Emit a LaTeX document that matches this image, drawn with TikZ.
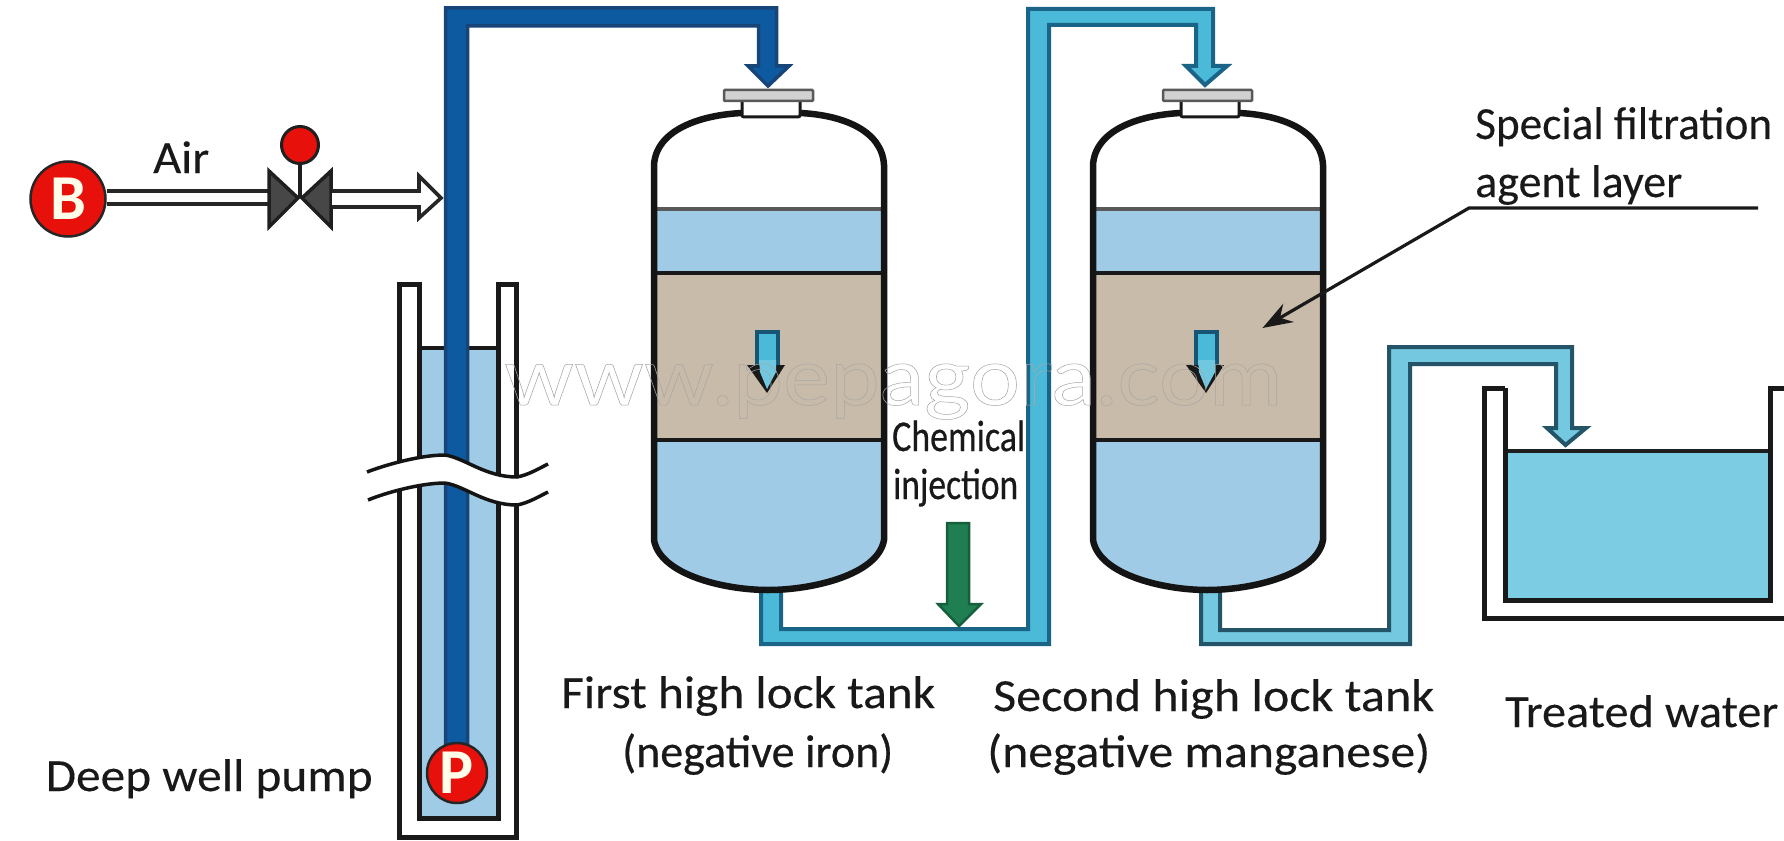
\documentclass[tikz,border=0pt]{standalone}
\usepackage{fontspec}
\usepackage{graphicx}
\usetikzlibrary{arrows.meta}
\setmainfont{Carlito}
\newfontfamily\heavyfont[FakeBold=0.5]{Carlito}
\newfontfamily\textweight[FakeBold=0.2]{Carlito}
\newfontfamily\markfont{Lato}
\definecolor{waterblue}{HTML}{9FCBE6}
\definecolor{mediatan}{HTML}{C9BBA9}
\definecolor{deepblue}{HTML}{0E5AA0}
\definecolor{deepedge}{HTML}{174578}
\definecolor{cyanpipe}{HTML}{4BBAD8}
\definecolor{cyanedge}{HTML}{1A6488}
\definecolor{paleflow}{HTML}{74C8E0}
\definecolor{paleedge}{HTML}{245468}
\definecolor{tankwater}{HTML}{7CCDE4}
\definecolor{signalred}{HTML}{E8100A}
\definecolor{chemgreen}{HTML}{1F7F52}
\definecolor{chemedge}{HTML}{155F3C}
\newcommand{\fitw}[2]{\resizebox{#1pt}{\height}{#2}}
\tikzset{
  x=1pt, y=-1pt,
  lab/.style={inner sep=0pt, anchor=base west, text=black!90, font=\textweight\fontsize{46}{46}\selectfont},
  narrowlab/.style={lab, font=\heavyfont\fontsize{44}{44}\selectfont},
  wall/.style={draw=black!90, line width=5pt, line join=miter},
  deeppipe/.style={fill=deepblue, draw=deepedge, line width=3.5pt, line join=miter},
  cyanflow/.style={fill=cyanpipe, draw=cyanedge, line width=4pt, line join=miter},
  paleflowpipe/.style={fill=paleflow, draw=paleedge, line width=4pt, line join=miter},
  airline/.style={draw=black!85, line width=3.6pt},
  redball/.style={circle, fill=signalred, draw=black!85, line width=2.5pt, inner sep=0pt, text=white!92!yellow, font=\bfseries\fontsize{64}{64}\selectfont},
}
% One pressure tank: shell, water and media bands, neck and flange, flow arrow
\newcommand{\pressuretank}{%
  \path[fill=white] (654,165) .. controls (656,130) and (700,115) .. (742,113) -- (800,113)
     .. controls (842,115) and (882,130) .. (884,165) -- (884,540)
     .. controls (878,575) and (812,590) .. (768,590)
     .. controls (725,590) and (660,575) .. (654,540) -- cycle;
  \fill[waterblue] (654,209) rectangle (884,273);
  \fill[mediatan] (654,273) rectangle (884,440);
  \path[fill=waterblue] (654,440) -- (884,440) -- (884,540)
     .. controls (878,575) and (812,590) .. (768,590)
     .. controls (725,590) and (660,575) .. (654,540) -- cycle;
  \draw[black!65, line width=4pt] (654,209) -- (884,209);
  \draw[black!90, line width=4pt] (654,273) -- (884,273) (654,440) -- (884,440);
  \draw[black!92, line width=6.5pt] (742,113) .. controls (700,115) and (656,130) .. (654,165) -- (654,540)
     .. controls (660,575) and (725,590) .. (768,590)
     .. controls (812,590) and (878,575) .. (884,540) -- (884,165)
     .. controls (882,130) and (842,115) .. (800,113);
  \draw[fill=white, draw=black!90, line width=3pt, rounded corners=2pt] (742,100) -- (742,117) -- (800,117) -- (800,100);
  \draw[fill=black!18, draw=black!65, line width=2.5pt, rounded corners=1pt] (724,90) rectangle (813,101);
  \draw[fill=cyanpipe, draw=cyanedge!85!black, line width=3.5pt] (757,332) -- (778,332) -- (778,372) -- (757,372) -- cycle;
  \fill[black!90] (747,365) -- (785,365) -- (767,393) -- cycle;
  \fill[cyanpipe!80!white] (759,360) -- (776,360) -- (776,372) -- (767,389) -- (760,372) -- cycle;
}
\begin{document}
\begin{tikzpicture}
\useasboundingbox (0,0) rectangle (1784,840);
\fill[white] (0,0) rectangle (1784,840);

% Well casing and its water
\fill[waterblue] (419,347) rectangle (497,818);
\draw[wall] (399,284) -- (399,837) -- (516,837) -- (516,284) -- (498,284) -- (498,818) -- (419,818) -- (419,284) -- cycle;
\draw[black!90, line width=4pt] (419,348) -- (498,348);

% Raw water line from the well to the first tank
\path[deeppipe] (445.5,750) -- (445.5,8) -- (776.5,8) -- (776.5,66) -- (789,66) -- (768,86) -- (748,66) -- (758.5,66) -- (758.5,26) -- (467.5,26) -- (467.5,750) -- cycle;

% Break in the well shaft
\path[fill=white] (367,472) .. controls (385,465) and (420,455) .. (445,455) .. controls (465,458) and (485,477) .. (517,477) .. controls (528,475) and (538,469) .. (548,464)
  -- (548,492) .. controls (538,497) and (528,503) .. (517,505) .. controls (485,505) and (465,486) .. (445,483) .. controls (420,483) and (385,493) .. (368,500) -- cycle;
\draw[black!92, line width=3.5pt] (367,472) .. controls (385,465) and (420,455) .. (445,455) .. controls (465,458) and (485,477) .. (517,477) .. controls (528,475) and (538,469) .. (548,464);
\draw[black!92, line width=3.5pt] (368,500) .. controls (385,493) and (420,483) .. (445,483) .. controls (465,486) and (485,505) .. (517,505) .. controls (528,503) and (538,497) .. (548,492);

% Pump
\node[redball, minimum size=60pt] (pump) at (457,773) {P};
\node[lab] (welllabel) at (45.5,791) {\fitw{327}{Deep well pump}};

% Air supply, valve and injection arrow
\node[redball, minimum size=75pt] (blower) at (68,199) {B};
\node[lab] (airlabel) at (153,173) {\fitw{56}{Air}};
\coordinate (valve) at (300,198);
\draw[airline] (blower.east |- 0,191) -- (268,191) (blower.east |- 0,204) -- (268,204);
\draw[fill=black!72, draw=black!88, line width=3.5pt, line join=miter] (269,171) -- (298,198) -- (269,227) -- cycle;
\draw[fill=black!72, draw=black!88, line width=3.5pt, line join=miter] (331,171) -- (302,198) -- (331,227) -- cycle;
\draw[black!88, line width=3.5pt] (valve) -- (300,160);
\node[circle, fill=signalred, draw=black!88, line width=3pt, minimum size=37pt, inner sep=0pt] (valveball) at (300,145) {};
\draw[fill=white, draw=black!85, line width=3.6pt, line join=miter] (332,191) -- (419,191) -- (419,176) -- (441,198) -- (419,218) -- (419,207) -- (332,207);

% Line from the first tank to the second
\path[cyanflow] (761,585) -- (761,644) -- (1049,644) -- (1049,25) -- (1196,25) -- (1196,66) -- (1186,66) -- (1205,85) -- (1227,66) -- (1213,66) -- (1213,9) -- (1028,9) -- (1028,629) -- (781,629) -- (781,585) -- cycle;
% Line from the second tank to the treated water tank
\path[paleflowpipe] (1201,585) -- (1201,644) -- (1410,644) -- (1410,364) -- (1556,364) -- (1556,428) -- (1547,428) -- (1565.5,445) -- (1586,428) -- (1572,428) -- (1572,347) -- (1389,347) -- (1389,630) -- (1220,630) -- (1220,585) -- cycle;

% Tanks
\begin{scope}\pressuretank\end{scope}
\begin{scope}[xshift=439pt]\pressuretank\end{scope}
\node[lab] (firstname) at (561,708) {\fitw{374}{First high lock tank}};
\node[lab, font=\heavyfont\fontsize{46}{46}\selectfont] (firstrole) at (622,767) {\fitw{271}{(negative iron)}};
\node[lab] (secondname) at (993,711) {\fitw{441}{Second high lock tank}};
\node[lab] (secondrole) at (987,767) {\fitw{443}{(negative manganese)}};

% Chemical injection
\node[narrowlab] (chemone) at (892,451) {\fitw{133}{Chemical}};
\node[narrowlab] (chemtwo) at (893,499) {\fitw{125}{injection}};
\path[fill=chemgreen, draw=chemedge, line width=2.5pt, line join=miter] (947,523) -- (969,523) -- (969,604) -- (981,604) -- (959,626) -- (938,604) -- (947,604) -- cycle;

% Treated water tank
\fill[tankwater] (1505,451) rectangle (1770,600);
\draw[black!88, line width=4.5pt] (1505,451) -- (1768,451);
\draw[wall] (1505,388) -- (1505,600) -- (1770,600) -- (1770,388) -- (1784,388);
\draw[wall] (1505,388) -- (1484,388) -- (1484,618) -- (1784,618);
\node[lab] (treatedlabel) at (1505,727) {\fitw{273}{Treated water}};

% Filtration layer callout
\node[lab] (mediaone) at (1475,139) {\fitw{297}{Special filtration}};
\node[lab] (mediatwo) at (1475,197) {\fitw{207}{agent layer}};
\coordinate (calloutend) at (1758,208);
\coordinate (calloutknee) at (1469,208);
\coordinate (calloutpoint) at (1262.5,328);
\draw[black!90, line width=3.2pt, -{Stealth[length=30pt,width=21pt]}] (calloutend) -- (calloutknee) -- (calloutpoint);

% Site address across the middle, letters in thin outline
\node[inner sep=0pt, anchor=base west, text=black!35, font=\markfont\fontsize{80}{80}\selectfont] (siteaddress) at (504,405)
  {\special{pdf:code 1 Tr 0.5 w}\fitw{778}{www.pepagora.com}\special{pdf:code 0 Tr}};
\end{tikzpicture}
\end{document}
